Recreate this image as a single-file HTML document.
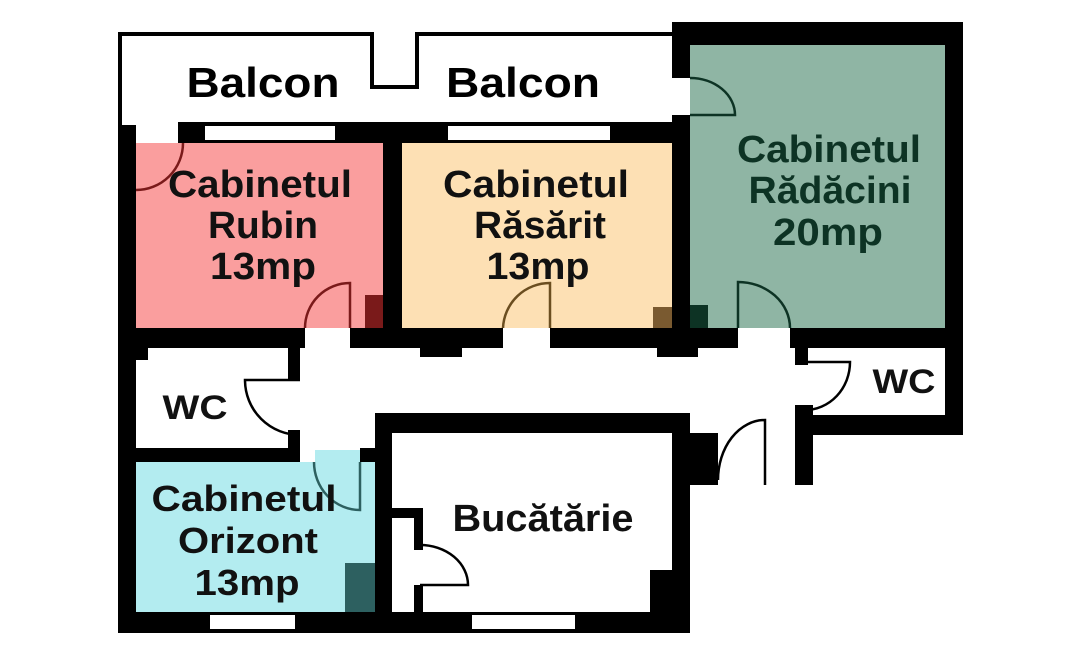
<!DOCTYPE html>
<html><head><meta charset="utf-8"><style>
html,body{margin:0;padding:0;background:#fff;}
svg{display:block;}
text{font-family:"Liberation Sans","DejaVu Sans",sans-serif;font-weight:bold;text-anchor:middle;}
</style></head><body>
<svg width="1080" height="666" viewBox="0 0 1080 666" xmlns="http://www.w3.org/2000/svg">
<rect width="1080" height="666" fill="#fff"/>
<polyline points="120,125 120,34 372,34 372,87 417,87 417,34 672,34" fill="none" stroke="#000" stroke-width="4"/>
<rect x="136" y="143" width="247" height="185" fill="#fa9e9e"/>
<rect x="402" y="143" width="270" height="185" fill="#fde0b4"/>
<rect x="690" y="45" width="255" height="283" fill="#8fb5a4"/>
<rect x="136" y="462" width="239" height="150" fill="#b3ecf0"/>
<rect x="315" y="450" width="45" height="14" fill="#b3ecf0"/>
<rect x="365" y="295" width="18" height="33" fill="#7a1a1a"/>
<rect x="653" y="307" width="19" height="21" fill="#7a5a30"/>
<rect x="690" y="305" width="18" height="23" fill="#0d3324"/>
<rect x="345" y="563" width="30" height="49" fill="#2d6060"/>
<g fill="#000">
<rect x="118" y="125" width="18" height="508"/>
<rect x="178" y="122" width="512" height="21"/>
<rect x="672" y="22" width="291" height="23"/>
<rect x="945" y="22" width="18" height="413"/>
<rect x="672" y="22" width="18" height="56"/>
<rect x="672" y="115" width="18" height="233"/>
<rect x="383" y="143" width="19" height="205"/>
<rect x="118" y="328" width="187" height="20"/>
<rect x="350" y="328" width="153" height="20"/>
<rect x="550" y="328" width="188" height="20"/>
<rect x="790" y="328" width="173" height="20"/>
<rect x="420" y="346" width="42" height="11"/>
<rect x="657" y="346" width="41" height="11"/>
<rect x="118" y="346" width="30" height="14"/>
<rect x="288" y="346" width="12" height="34"/>
<rect x="288" y="430" width="12" height="32"/>
<rect x="118" y="448" width="182" height="14"/>
<rect x="360" y="448" width="15" height="14"/>
<rect x="375" y="413" width="17" height="220"/>
<rect x="375" y="413" width="315" height="20"/>
<rect x="672" y="413" width="18" height="220"/>
<rect x="118" y="612" width="572" height="21"/>
<rect x="650" y="570" width="22" height="42"/>
<rect x="690" y="433" width="28" height="52"/>
<rect x="795" y="405" width="18" height="80"/>
<rect x="795" y="415" width="168" height="20"/>
<rect x="795" y="346" width="13" height="19"/>
<rect x="392" y="508" width="30" height="10"/>
<rect x="414" y="508" width="9" height="42"/>
<rect x="414" y="585" width="9" height="27"/>
</g>
<g fill="#fff">
<rect x="205" y="126" width="130" height="14"/>
<rect x="448" y="126" width="162" height="14"/>
<rect x="210" y="615" width="85" height="14"/>
<rect x="472" y="615" width="103" height="14"/>
<rect x="400" y="518" width="14" height="94"/>
</g>
<g fill="none" stroke-width="2.5">
<path d="M136,190 A47,47 0 0 0 183,143" stroke="#7a1a1a"/>
<path d="M350,328 L350,283 A45,45 0 0 0 305,328" stroke="#7a1a1a"/>
<path d="M550,328 L550,283 A47,47 0 0 0 503,328" stroke="#6b4e20"/>
<path d="M738,328 L738,282 A52,46 0 0 1 790,328" stroke="#0d3324"/>
<path d="M690,115 L735,115 A45,37 0 0 0 690,78" stroke="#0d3324"/>
<path d="M300,380 L245,380 A55,55 0 0 0 300,435" stroke="#000"/>
<path d="M360,462 L360,510 A46,48 0 0 1 314,462" stroke="#2d6060"/>
<path d="M805,362 L850,362 A45,48 0 0 1 805,410" stroke="#000"/>
<path d="M765,485 L765,420 A47,60 0 0 0 718,480" stroke="#000"/>
<path d="M420,585 L468,585 A48,40 0 0 0 420,545" stroke="#000"/>
</g>
<g lengthAdjust="spacingAndGlyphs">
<text x="263" y="97" font-size="42" textLength="153" lengthAdjust="spacingAndGlyphs">Balcon</text>
<text x="523" y="97" font-size="42" textLength="154" lengthAdjust="spacingAndGlyphs">Balcon</text>
</g>
<g font-size="38" fill="#111">
<text x="260" y="197" textLength="184" lengthAdjust="spacingAndGlyphs">Cabinetul</text>
<text x="263" y="238" textLength="110" lengthAdjust="spacingAndGlyphs">Rubin</text>
<text x="263" y="279" textLength="106" lengthAdjust="spacingAndGlyphs">13mp</text>
<text x="536" y="197" textLength="186" lengthAdjust="spacingAndGlyphs">Cabinetul</text>
<text x="540" y="238" textLength="132" lengthAdjust="spacingAndGlyphs">Răsărit</text>
<text x="538" y="279" textLength="103" lengthAdjust="spacingAndGlyphs">13mp</text>
<text x="244" y="511" font-size="36" textLength="185" lengthAdjust="spacingAndGlyphs">Cabinetul</text>
<text x="248" y="553" font-size="36" textLength="140" lengthAdjust="spacingAndGlyphs">Orizont</text>
<text x="247" y="595" font-size="36" textLength="105" lengthAdjust="spacingAndGlyphs">13mp</text>
<text x="543" y="531" textLength="181" lengthAdjust="spacingAndGlyphs">Bucătărie</text>
<text x="195" y="419" font-size="34" textLength="65" lengthAdjust="spacingAndGlyphs">WC</text>
<text x="904" y="393" font-size="34" textLength="63" lengthAdjust="spacingAndGlyphs">WC</text>
</g>
<g font-size="38" fill="#0d3324">
<text x="829" y="162" textLength="184" lengthAdjust="spacingAndGlyphs">Cabinetul</text>
<text x="830" y="203" textLength="163" lengthAdjust="spacingAndGlyphs">Rădăcini</text>
<text x="828" y="245" textLength="110" lengthAdjust="spacingAndGlyphs">20mp</text>
</g>
</svg>
</body></html>
